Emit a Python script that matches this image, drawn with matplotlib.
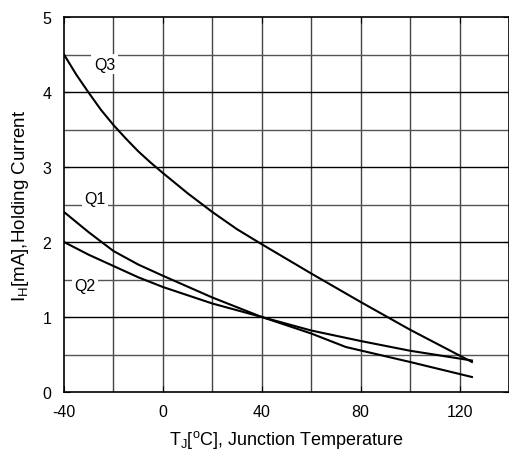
import numpy as np
import matplotlib
matplotlib.use('Agg')
import matplotlib.pyplot as plt

plt.rcParams['font.family'] = ['Liberation Sans', 'DejaVu Sans']
plt.rcParams['mathtext.fontset'] = 'custom'
plt.rcParams['mathtext.rm'] = 'Liberation Sans'
plt.rcParams['mathtext.it'] = 'Liberation Sans'
plt.rcParams['axes.unicode_minus'] = False

# Data
q3_t = [-40, -35, -30, -25, -20, -15, -10, -5, 0, 10, 20, 30, 40, 60, 80, 100, 125]
q3_i = [4.5, 4.23, 3.99, 3.76, 3.56, 3.38, 3.21, 3.06, 2.92, 2.65, 2.4, 2.17, 1.97, 1.58, 1.2, 0.83, 0.4]
q1_t = [-40, -30, -20, -10, 0, 20, 40, 60, 74, 100, 125]
q1_i = [2.4, 2.13, 1.88, 1.7, 1.55, 1.26, 1.0, 0.78, 0.6, 0.4, 0.2]
q2_t = [-40, -30, -20, -10, 0, 20, 40, 60, 80, 100, 125]
q2_i = [2.0, 1.83, 1.68, 1.53, 1.4, 1.18, 1.0, 0.82, 0.68, 0.55, 0.42]

labels = ['Q3', 'Q1', 'Q2']
label_pos = [(-23.5, 4.37), (-27.5, 2.58), (-31.5, 1.42)]

x_ticks = [-40, 0, 40, 80, 120]
y_ticks = [0, 1, 2, 3, 4, 5]

fig = plt.figure(figsize=(5.1, 4.52), dpi=100)
ax = fig.add_axes([64/510, 1 - 393/452, 445/510, 375/452])

# grid
for x in np.arange(-20, 140, 20):
    ax.axvline(x, color='#444444', lw=1.0, zorder=1)
for y in np.arange(0.5, 5, 0.5):
    c = 'black' if y % 1 == 0 else '#555555'
    ax.axhline(y, color=c, lw=1.0, zorder=1)

ax.plot(q3_t, q3_i, color='black', lw=1.5, zorder=3)
ax.plot(q1_t, q1_i, color='black', lw=1.5, zorder=3)
ax.plot(q2_t, q2_i, color='black', lw=1.5, zorder=3)

for lab, (x, y) in zip(labels, label_pos):
    ax.text(x, y, lab, fontsize=11.5, ha='center', va='center', zorder=4,
            bbox=dict(facecolor='white', edgecolor='none', pad=2))

ax.set_xlim(-40, 140)
ax.set_ylim(0, 5)
ax.set_xticks(x_ticks)
ax.set_yticks(y_ticks)
ax.tick_params(direction='in', length=4, labelsize=11.5, top=True, right=True)
ax.tick_params(axis='x', pad=9)
ax.tick_params(axis='y', pad=9)
for s in ax.spines.values():
    s.set_linewidth(1.2)

ax.set_xlabel(r'T$_J$[$^o$C], Junction Temperature', fontsize=13, labelpad=6)
ax.set_ylabel(r'I$_H$[mA],Holding Current', fontsize=13.5, labelpad=8)

fig.savefig('out.png', dpi=100)
